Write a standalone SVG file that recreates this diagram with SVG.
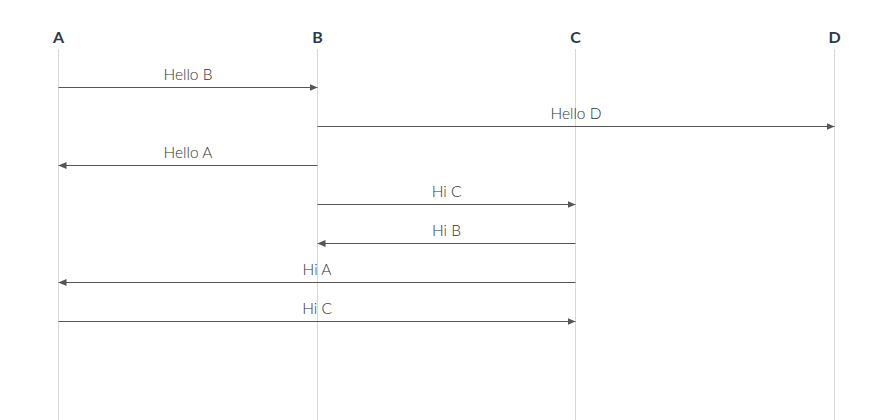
<svg xmlns="http://www.w3.org/2000/svg" width="891" height="420" viewBox="0 0 891 420">
<style>
.life{stroke:#d8d8d8;stroke-width:1}
.head{font-family:Lato,"Open Sans",sans-serif;font-weight:700;font-size:16px;fill:#2b3a4a;text-anchor:middle}
.msg{stroke:#555;stroke-width:1;fill:none}
.lbl{font-family:Lato,"Open Sans",sans-serif;font-weight:300;font-size:15.5px;fill:#333;text-anchor:middle}
</style>
<defs>
<marker id="ah" viewBox="0 0 8 8" refX="8" refY="4" markerWidth="8" markerHeight="8" markerUnits="userSpaceOnUse" orient="auto">
<path d="M0,0.5 L8,4 L0,7.5 Z" fill="#555"/>
</marker>
</defs>
<rect width="891" height="420" fill="#fff"/>
<g id="A"><line class="life" x1="58.5" y1="49" x2="58.5" y2="420"/><text class="head" x="58.5" y="43">A</text></g>
<g id="B"><line class="life" x1="317.5" y1="49" x2="317.5" y2="420"/><text class="head" x="317.5" y="43">B</text></g>
<g id="C"><line class="life" x1="575.5" y1="49" x2="575.5" y2="420"/><text class="head" x="575.5" y="43">C</text></g>
<g id="D"><line class="life" x1="834.5" y1="49" x2="834.5" y2="420"/><text class="head" x="834.5" y="43">D</text></g>
<g id="connectors">
<line class="msg" x1="58.5" y1="87.5" x2="317.5" y2="87.5" marker-end="url(#ah)"/>
<text class="lbl" x="188" y="80">Hello B</text>
<line class="msg" x1="317.5" y1="126.5" x2="834.5" y2="126.5" marker-end="url(#ah)"/>
<text class="lbl" x="576" y="119">Hello D</text>
<line class="msg" x1="317.5" y1="165.5" x2="58.5" y2="165.5" marker-end="url(#ah)"/>
<text class="lbl" x="188" y="158">Hello A</text>
<line class="msg" x1="317.5" y1="204.5" x2="575.5" y2="204.5" marker-end="url(#ah)"/>
<text class="lbl" x="446.5" y="197">Hi C</text>
<line class="msg" x1="575.5" y1="243.5" x2="317.5" y2="243.5" marker-end="url(#ah)"/>
<text class="lbl" x="446.5" y="236">Hi B</text>
<line class="msg" x1="575.5" y1="282.5" x2="58.5" y2="282.5" marker-end="url(#ah)"/>
<text class="lbl" x="317" y="275">Hi A</text>
<line class="msg" x1="58.5" y1="321.5" x2="575.5" y2="321.5" marker-end="url(#ah)"/>
<text class="lbl" x="317" y="314">Hi C</text>
</g>
</svg>
